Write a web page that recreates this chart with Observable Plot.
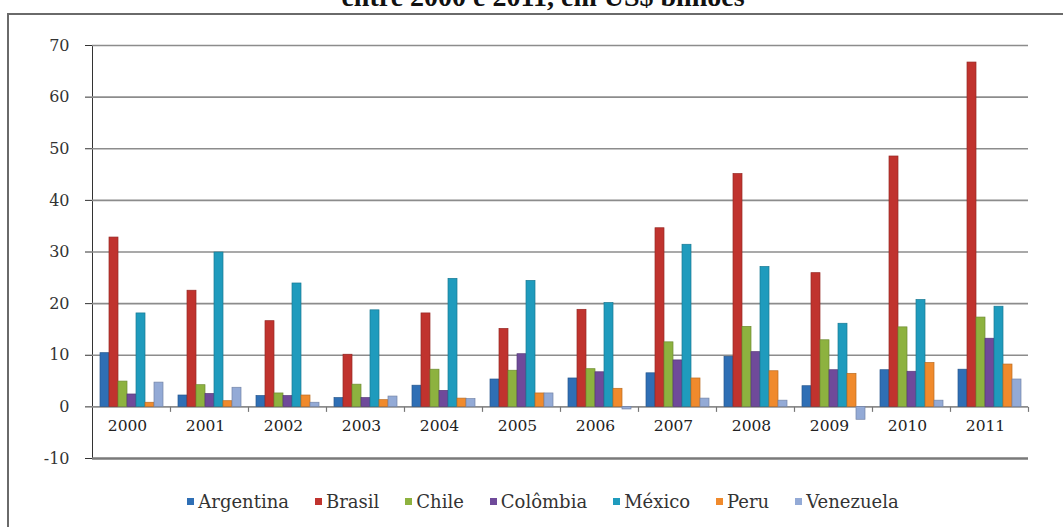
<!DOCTYPE html>
<html><head><meta charset="utf-8">
<script src="https://cdn.jsdelivr.net/npm/d3@7"></script>
<script src="https://cdn.jsdelivr.net/npm/@observablehq/plot@0.6"></script>
<style>
body{margin:0;background:#fff;}
#wrap{position:relative;width:1063px;height:527px;overflow:hidden;font-family:"DejaVu Serif",serif;}
#title{position:absolute;top:-19px;left:0;width:1086px;text-align:center;font:bold 28px "Liberation Serif",serif;color:#111;white-space:nowrap;}
#frame{position:absolute;left:7px;top:13px;width:1100px;height:600px;border-left:2px solid #6a6a6a;border-top:2px solid #6a6a6a;}
#chart{position:absolute;left:0;top:0;}
#legend{position:absolute;top:491px;left:0;width:1086px;display:flex;justify-content:center;gap:26px;font-size:18px;color:#333;white-space:nowrap;}
#legend .it{display:flex;align-items:center;}
#legend .sw{display:inline-block;width:7px;height:7px;margin-right:4px;}
</style>
</head><body>
<div id="wrap">
  <div id="title">entre 2000 e 2011, em US$ bilhões</div>
  <div id="frame"></div>
  <div id="chart"></div>
  <div id="legend"></div>
</div>
<script>
const years = ["2000","2001","2002","2003","2004","2005","2006","2007","2008","2009","2010","2011"];
const countries = ["Argentina","Brasil","Chile","Colômbia","México","Peru","Venezuela"];
const colors = ["#2f6fb5","#c0332e","#8db23f","#6f4a9a","#1f9bbd","#f08a2c","#93aad6"];
const argentina = [10.4, 2.2, 2.1, 1.7, 4.1, 5.3, 5.5, 6.5, 9.7, 4.0, 7.1, 7.2];
const brasil    = [32.8, 22.5, 16.6, 10.1, 18.1, 15.1, 18.8, 34.6, 45.1, 25.9, 48.5, 66.7];
const chile     = [4.9, 4.2, 2.6, 4.3, 7.2, 7.0, 7.3, 12.5, 15.5, 12.9, 15.4, 17.3];
const colombia  = [2.4, 2.5, 2.1, 1.7, 3.1, 10.2, 6.7, 9.0, 10.6, 7.1, 6.8, 13.2];
const mexico    = [18.1, 29.9, 23.9, 18.7, 24.8, 24.4, 20.1, 31.4, 27.1, 16.1, 20.7, 19.4];
const peru      = [0.8, 1.1, 2.2, 1.3, 1.6, 2.6, 3.5, 5.5, 6.9, 6.4, 8.5, 8.2];
const venezuela = [4.7, 3.7, 0.8, 2.0, 1.5, 2.6, -0.5, 1.6, 1.2, -2.5, 1.2, 5.3];
const yTicks = [-10, 0, 10, 20, 30, 40, 50, 60, 70];

const series = [argentina, brasil, chile, colombia, mexico, peru, venezuela];
const data = [];
years.forEach((yr, i) => countries.forEach((c, j) => data.push({year: yr, country: c, value: series[j][i]})));
const strokeOf = new Map(countries.map((c, j) => [c, d3.color(colors[j]).darker(0.7).formatHex()]));
const downTick = {draw(ctx) { ctx.moveTo(0, 0); ctx.lineTo(0, 5); }};

const chart = Plot.plot({
  width: 1063, height: 480,
  marginTop: 45, marginBottom: 22, marginLeft: 87, marginRight: 31,
  style: {fontFamily: "DejaVu Serif, serif", fontSize: "16px", color: "#333", background: "transparent"},
  fx: {domain: years, padding: 0, axis: null},
  x: {domain: countries, paddingInner: 0, paddingOuter: 0.42, axis: null},
  y: {domain: [-10, 70], ticks: yTicks, tickSize: 7, line: true, label: null, tickFormat: () => ""},
  color: {domain: countries, range: colors},
  marks: [
    Plot.ruleY(yTicks.filter(t => t > -10), {stroke: "#8c8c8c", strokeWidth: 1.6}),
    Plot.ruleY([-10], {stroke: "#7a7a7a", strokeWidth: 2.5}),
    Plot.dot(years, {fx: d => d, y: () => 0, frameAnchor: "right", symbol: downTick, stroke: "#777", strokeWidth: 1.2}),
    Plot.barY(data, {fx: "year", x: "country", y: "value", fill: "country", stroke: d => strokeOf.get(d.country), strokeWidth: 0.7, insetLeft: 0, insetRight: 0}),
    Plot.text(years, {fx: d => d, y: () => -3.7, text: d => d, dx: -4, fontSize: 15.5, fill: "#222"}),
    Plot.text(yTicks, {fx: () => years[0], y: d => d, text: d => String(d), frameAnchor: "left", textAnchor: "end", dx: -23, fontSize: 16, fill: "#333"})
  ]
});
document.getElementById("chart").appendChild(chart);

const legend = document.getElementById("legend");
countries.forEach((c, j) => {
  const it = document.createElement("div");
  it.className = "it";
  const sw = document.createElement("span");
  sw.className = "sw";
  sw.style.background = colors[j];
  it.appendChild(sw);
  it.appendChild(document.createTextNode(c));
  legend.appendChild(it);
});
</script>
</body></html>
